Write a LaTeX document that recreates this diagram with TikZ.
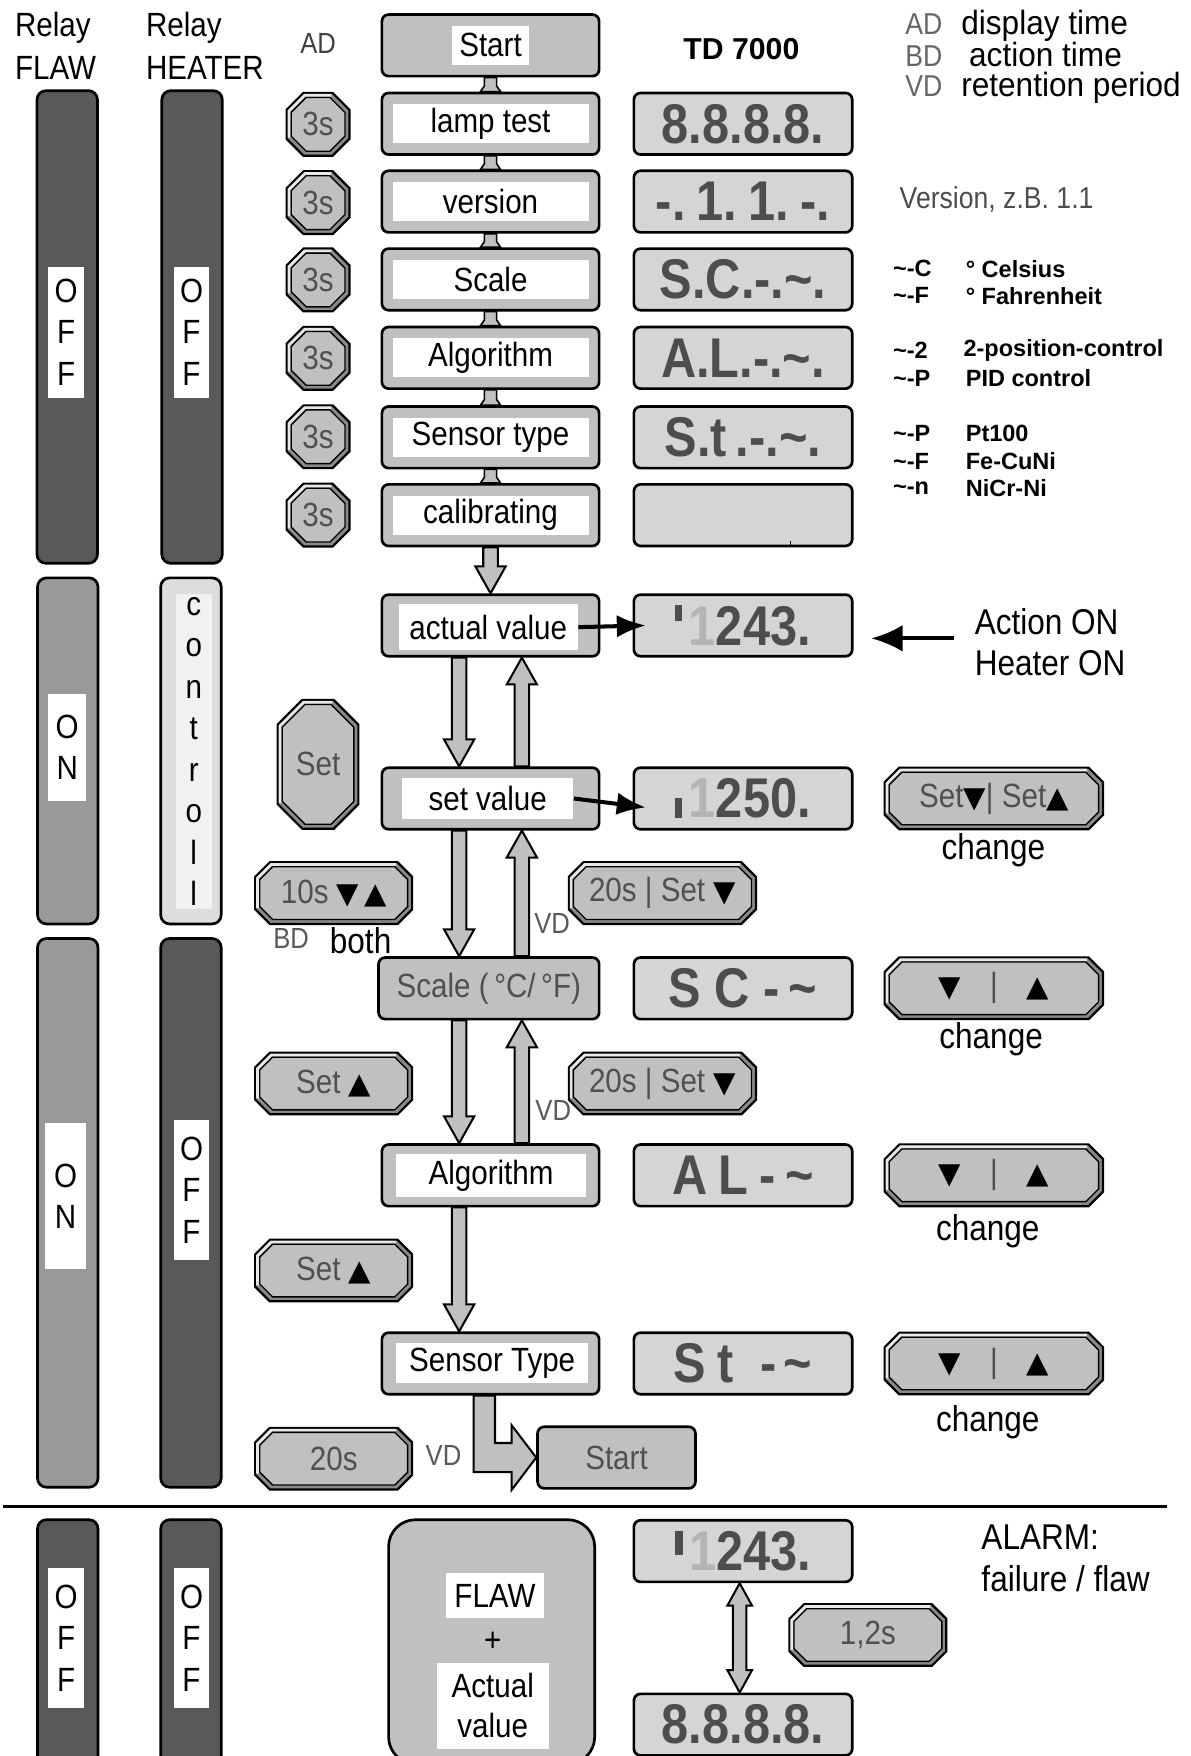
\documentclass[tikz,border=0pt]{standalone}
\usepackage{fontspec}
\setmainfont{Liberation Sans}
\newfontfamily\pix{Liberation Sans}[FakeStretch=0.88]
\newfontfamily\pixw{Liberation Sans}[FakeStretch=0.94]
\newfontfamily\seg{Liberation Sans}[FakeStretch=0.87]
\newfontfamily\tri{DejaVu Sans}
\usetikzlibrary{calc,arrows.meta}
\definecolor{boxgray}{HTML}{C0C0C0}
\definecolor{dispgray}{HTML}{D4D5D7}
\definecolor{bardark}{HTML}{58595B}
\definecolor{barmid}{HTML}{98999B}
\definecolor{barlight}{HTML}{DCDDDF}
\definecolor{btnedge}{HTML}{8A8A8A}
\definecolor{btnlight}{HTML}{E8E8E8}
\definecolor{segc}{HTML}{4D4D4F}
\definecolor{seglt}{HTML}{B4B4B6}
\definecolor{txtgray}{HTML}{505050}
\tikzset{
 proc/.style={draw, line width=1.2pt, fill=boxgray, rounded corners=3pt, minimum width=97pt, minimum height=27.5pt, inner sep=0pt},
 lbl/.style={fill=white, inner sep=0pt, minimum height=17.5pt, font=\pix\fontsize{15}{17}\selectfont},
 wlbl/.style={lbl, minimum width=87.5pt},
 disp/.style={draw, line width=1.2pt, fill=dispgray, rounded corners=3pt, minimum width=97.5pt, minimum height=27.5pt, inner sep=0pt, text=segc, font=\seg\bfseries\fontsize{25}{25}\selectfont},
 bar/.style={draw, line width=1.2pt, rounded corners=4pt, minimum width=27pt, inner sep=0pt},
 barlbl/.style={fill=white, inner sep=0pt, align=center, font=\pix\fontsize{15}{18.5}\selectfont},
 fat/.style={draw=black, line width=0.9pt, fill=boxgray, line join=miter},
 btntext/.style={inner sep=0pt, text=txtgray, font=\pix\fontsize{15}{17}\selectfont},
 plain/.style={inner sep=0pt, anchor=west, font=\pix\fontsize{16}{18}\selectfont},
 ctext/.style={inner sep=0pt, font=\pix\fontsize{16}{18}\selectfont},
 legabbr/.style={inner sep=0pt, anchor=base west, text=black!60, font=\pix\fontsize{13.5}{15}\selectfont},
 legtext/.style={inner sep=0pt, anchor=base west, font=\pixw\fontsize{15}{17}\selectfont},
 smallgray/.style={inner sep=0pt, text=black!65, font=\pix\fontsize{13}{15}\selectfont},
 boldnote/.style={inner sep=0pt, anchor=west, font=\bfseries\fontsize{10.5}{12}\selectfont},
 blackarrow/.style={line width=1.8pt, -{Latex[length=13pt,width=10pt]}},
}
\newcommand\blk[1]{{\color{black}\tri\fontsize{13}{14}\selectfont #1}}
\newcommand\button[7]{%
 \pgfmathsetmacro\ba{#4/2}\pgfmathsetmacro\bb{#5/2}\pgfmathsetmacro\bc{#6}%
 \pgfmathsetmacro\ia{\ba-4}\pgfmathsetmacro\ib{\bb-4}\pgfmathsetmacro\ic{\bc-1.6}%
 \pgfmathsetmacro\ma{\ba-2}\pgfmathsetmacro\mb{\bb-2}\pgfmathsetmacro\mc{\bc-0.8}%
 \filldraw[fill=btnedge, line width=1pt, line join=miter] (#2-\ba+\bc,#3-\bb) -- (#2+\ba-\bc,#3-\bb) -- (#2+\ba,#3-\bb+\bc) -- (#2+\ba,#3+\bb-\bc) -- (#2+\ba-\bc,#3+\bb) -- (#2-\ba+\bc,#3+\bb) -- (#2-\ba,#3+\bb-\bc) -- (#2-\ba,#3-\bb+\bc) -- cycle;
 \draw[btnlight, line width=1.2pt] (#2-\ma,#3+\mb-\mc) -- (#2-\ma,#3-\mb+\mc) -- (#2-\ma+\mc,#3-\mb) -- (#2+\ma-\mc,#3-\mb);
 \filldraw[fill=boxgray, line width=0.6pt, line join=miter] (#2-\ia+\ic,#3-\ib) -- (#2+\ia-\ic,#3-\ib) -- (#2+\ia,#3-\ib+\ic) -- (#2+\ia,#3+\ib-\ic) -- (#2+\ia-\ic,#3+\ib) -- (#2-\ia+\ic,#3+\ib) -- (#2-\ia,#3+\ib-\ic) -- (#2-\ia,#3-\ib+\ic) -- cycle;
 \node[btntext] (#1) at (#2,#3) {#7};}
\newcommand\fatdown[2]{\draw[fat] let \p1=#1, \p2=#2 in (\x1-3.25pt,\y1) -- (\x1-3.25pt,\y2+12pt) -- (\x1-6.75pt,\y2+12pt) -- (\x1,\y2) -- (\x1+6.75pt,\y2+12pt) -- (\x1+3.25pt,\y2+12pt) -- (\x1+3.25pt,\y1) -- cycle;}
\newcommand\fatup[2]{\draw[fat] let \p1=#1, \p2=#2 in (\x1-3.25pt,\y1) -- (\x1-3.25pt,\y2-12pt) -- (\x1-6.75pt,\y2-12pt) -- (\x1,\y2) -- (\x1+6.75pt,\y2-12pt) -- (\x1+3.25pt,\y2-12pt) -- (\x1+3.25pt,\y1) -- cycle;}
\newcommand\smallconn[2]{\draw[fat, line width=0.7pt] let \p1=#1, \p2=#2 in (\x1-2.75pt,\y1) -- (\x1-2.75pt,\y2+2.5pt) -- (\x1-4.5pt,\y2) -- (\x1+4.5pt,\y2) -- (\x1+2.75pt,\y2+2.5pt) -- (\x1+2.75pt,\y1) -- cycle;}
\newcommand\fatboth[2]{\draw[fat] let \p1=#1, \p2=#2 in (\x1,\y1) -- (\x1+5.5pt,\y1-10pt) -- (\x1+3pt,\y1-10pt) -- (\x1+3pt,\y2+10pt) -- (\x1+5.5pt,\y2+10pt) -- (\x1,\y2) -- (\x1-5.5pt,\y2+10pt) -- (\x1-3pt,\y2+10pt) -- (\x1-3pt,\y1-10pt) -- (\x1-5.5pt,\y1-10pt) -- cycle;}
\begin{document}
\begin{tikzpicture}[x=0.5pt,y=-0.5pt]
\useasboundingbox (0,0) rectangle (1063,1568);
% header
\node[plain, font=\pix\fontsize{15}{17}\selectfont] (rf1) at (13,25) {Relay};
\node[plain, font=\pix\fontsize{15}{17}\selectfont] (rf2) at (13,61) {FLAW};
\node[plain, font=\pix\fontsize{15}{17}\selectfont] (rh1) at (130,25) {Relay};
\node[plain, font=\pix\fontsize{15}{17}\selectfont] (rh2) at (130,61) {HEATER};
\node[smallgray, text=black!75] (adh) at (284,39) {AD};
\node[inner sep=0pt, font=\bfseries\fontsize{13.5}{15}\selectfont] (td) at (662,44) {TD 7000};
\node[legabbr] (lad) at (808,31) {AD}; \node[legtext] (ladt) at (858,31) {display time};
\node[legabbr] (lbd) at (808,59) {BD}; \node[legtext] (lbdt) at (865,59) {action time};
\node[legabbr] (lvd) at (808,86) {VD}; \node[legtext] (lvdt) at (858,86) {retention period};
% relay bars
\node[bar, fill=bardark, minimum height=211pt] (r1a) at (60,292) {};
\node[barlbl, minimum width=16pt, minimum height=58.5pt] (r1al) at (59,296.5) {O\\F\\F};
\node[bar, fill=bardark, minimum height=211pt] (r1b) at (171.5,292) {};
\node[barlbl, minimum width=16pt, minimum height=58.5pt] (r1bl) at (171,296.5) {O\\F\\F};
\node[bar, fill=barmid, minimum height=154.5pt] (r2a) at (60.5,670.5) {};
\node[barlbl, minimum width=17pt, minimum height=47.5pt] (r2al) at (60,667.5) {O\\N};
\node[bar, fill=barlight, minimum height=154.5pt] (r2b) at (170.5,670.5) {};
\node[barlbl, minimum width=16pt, minimum height=141pt, fill=white!60!barlight] (r2bl) at (173,671) {c\\o\\n\\t\\r\\o\\l\\l};
\node[bar, fill=barmid, minimum height=245pt] (r3a) at (60.5,1083) {};
\node[barlbl, minimum width=18.5pt, minimum height=65pt] (r3al) at (58.5,1068) {O\\N};
\node[bar, fill=bardark, minimum height=245pt] (r3b) at (170.5,1083) {};
\node[barlbl, minimum width=16pt, minimum height=62.5pt] (r3bl) at (171,1062.5) {O\\F\\F};
\node[bar, fill=bardark, minimum height=113pt] (r4a) at (60.5,1470) {};
\node[barlbl, minimum width=16pt, minimum height=62.5pt] (r4al) at (59,1462.5) {O\\F\\F};
\node[bar, fill=bardark, minimum height=113pt] (r4b) at (170.5,1470) {};
\node[barlbl, minimum width=16pt, minimum height=62.5pt] (r4bl) at (171,1462.5) {O\\F\\F};
% process boxes
\node[proc] (start) at (438,40.5) {};
\node[lbl, minimum width=34pt] (startl) at (start) {Start};
\node[proc] (lamp) at (438,110.5) {}; \node[wlbl] (lampl) at (lamp) {lamp test};
\node[proc] (version) at (438,180) {}; \node[wlbl] (versionl) at (version) {version};
\node[proc] (scale1) at (438,249.5) {}; \node[wlbl] (scale1l) at (scale1) {Scale};
\node[proc] (algo1) at (438,319.5) {}; \node[wlbl] (algo1l) at (algo1) {Algorithm};
\node[proc] (sensor1) at (438,390.5) {}; \node[wlbl] (sensor1l) at (sensor1) {Sensor type};
\node[proc] (calib) at (438,460) {}; \node[wlbl] (calibl) at (calib) {calibrating};
\node[proc] (actual) at (438,558.5) {};
\node[lbl, minimum width=80pt, minimum height=20.5pt] (actuall) at (436,560) {actual value};
\node[proc] (setval) at (438,713) {};
\node[lbl, minimum width=76.5pt, minimum height=18pt] (setvall) at (435.5,713) {set value};
\node[proc, minimum width=98.5pt, text=txtgray, font=\pix\fontsize{15}{17}\selectfont] (scale2) at (436.5,882.5) {Scale (\,°C/\,°F)};
\node[proc] (algo2) at (438,1049.5) {};
\node[lbl, minimum width=84.5pt, minimum height=19.5pt] (algo2l) at (438.5,1049.5) {Algorithm};
\node[proc] (sensor2) at (438,1217.5) {};
\node[lbl, minimum width=85.5pt, minimum height=18pt] (sensor2l) at (439.5,1217) {Sensor Type};
\node[proc, minimum width=70.5pt, text=txtgray, font=\pix\fontsize{15}{17}\selectfont] (start2) at (550.5,1301.5) {Start};
% displays
\node[disp] (d1) at (663.5,110.5) {8.8.8.8.};
\node[disp] (d2) at (663.5,180) {-.\hspace{5pt}1.\hspace{5pt}1.\hspace{5pt}-.};
\node[disp] (d3) at (663.5,249.5) {S.C.-.\textasciitilde.};
\node[disp] (d4) at (663.5,319.5) {A.L.-.\textasciitilde.};
\node[disp] (d5) at (663.5,390.5) {S.t\hspace{4pt}.-.\textasciitilde.};
\node[disp] (d6) at (663.5,460) {};
\node[disp] (d7) at (663.5,558.5) {\rule[11pt]{3pt}{7pt}\hspace{3pt}\textcolor{seglt}{1}243.\hspace{8pt}};
\node[disp] (d8) at (663.5,713) {\rule[0pt]{3pt}{9pt}\hspace{3pt}\textcolor{seglt}{1}250.\hspace{8pt}};
\node[disp] (d9) at (663.5,882.5) {S\hspace{6pt}C\hspace{6pt}-\hspace{4pt}\textasciitilde};
\node[disp] (d10) at (663.5,1049.5) {A\hspace{5pt}L\hspace{5pt}-\hspace{4pt}\textasciitilde};
\node[disp] (d11) at (663.5,1217.5) {S\hspace{5pt}t\hspace{12pt}-\hspace{3pt}\textasciitilde};
\node[disp] (d12) at (663.5,1385) {\rule[7pt]{3.5pt}{11pt}\hspace{3pt}\textcolor{seglt}{1}243.\hspace{8pt}};
\node[disp] (d13) at (663.5,1540) {8.8.8.8.};
\draw[line width=0.5pt] ($(d6.south)+(42,0)$) -- ++(0,-6);
% buttons
\button{t1}{284}{111}{56}{56}{15}{3s}
\button{t2}{284}{181}{56}{56}{15}{3s}
\button{t3}{284}{250}{56}{56}{15}{3s}
\button{t4}{284}{320}{56}{56}{15}{3s}
\button{t5}{284}{390}{56}{56}{15}{3s}
\button{t6}{284}{460}{56}{56}{15}{3s}
\button{setb}{284}{682.5}{72}{115}{22}{Set}
\button{b10s}{298}{797.5}{140}{55}{13}{10s \blk{▼\,▲}}
\button{b20a}{591.5}{797.5}{167}{55}{13}{20s | Set \blk{▼}}
\button{bseta}{298}{967.5}{140}{55}{13}{Set \blk{▲}}
\button{b20b}{591.5}{967.5}{167}{55}{13}{20s | Set \blk{▼}}
\button{bsetb}{298}{1134.5}{140}{55}{13}{Set \blk{▲}}
\button{b20c}{298}{1302.5}{140}{55}{13}{20s}
\button{chg1}{887.5}{713}{195}{55}{13}{Set\blk{▼}| Set\blk{▲}}
\button{chg2}{887.5}{882.5}{195}{55}{13}{\blk{▼}\hspace{13pt}|\hspace{13pt}\blk{▲}}
\button{chg3}{887.5}{1049.5}{195}{55}{13}{\blk{▼}\hspace{13pt}|\hspace{13pt}\blk{▲}}
\button{chg4}{887.5}{1217.5}{195}{55}{13}{\blk{▼}\hspace{13pt}|\hspace{13pt}\blk{▲}}
\button{b12}{775}{1460}{140}{55}{13}{1,2s}
% small labels
\node[smallgray] (bd) at (260,838) {BD};
\node[ctext] (both) at (322,840) {both};
\node[smallgray] (vd1) at (493,825) {VD};
\node[smallgray] (vd2) at (494,992) {VD};
\node[smallgray] (vd3) at (396,1300) {VD};
\node[ctext] (ch1) at (887,759) {change};
\node[ctext] (ch2) at (885,928) {change};
\node[ctext] (ch3) at (882,1099) {change};
\node[ctext] (ch4) at (882,1270) {change};
% notes
\node[plain, text=black!70, font=\pix\fontsize{13.5}{15}\selectfont] (ver) at (803,178) {Version, z.B. 1.1};
\node[boldnote] (n1a) at (797,240) {\textasciitilde-C}; \node[boldnote] (n1b) at (862,240) {° Celsius};
\node[boldnote] (n2a) at (797,264) {\textasciitilde-F}; \node[boldnote] (n2b) at (862,264) {° Fahrenheit};
\node[boldnote] (n3a) at (797,313) {\textasciitilde-2}; \node[boldnote] (n3b) at (860,313) {2-position-control};
\node[boldnote] (n4a) at (797,338) {\textasciitilde-P}; \node[boldnote] (n4b) at (862,338) {PID control};
\node[boldnote] (n5a) at (797,387) {\textasciitilde-P}; \node[boldnote] (n5b) at (862,387) {Pt100};
\node[boldnote] (n6a) at (797,412) {\textasciitilde-F}; \node[boldnote] (n6b) at (862,412) {Fe-CuNi};
\node[boldnote] (n7a) at (797,436) {\textasciitilde-n}; \node[boldnote] (n7b) at (862,436) {NiCr-Ni};
\node[plain] (act1) at (870,555) {Action ON};
\node[plain] (act2) at (870,592) {Heater ON};
\coordinate (actA) at (852,570); \coordinate (actB) at (778,570);
\draw[line width=1.8pt, -{Latex[length=14pt,width=12pt]}] (actA) -- (actB);
% connectors
\smallconn{(start.south)}{(lamp.north)}
\smallconn{(lamp.south)}{(version.north)}
\smallconn{(version.south)}{(scale1.north)}
\smallconn{(scale1.south)}{(algo1.north)}
\smallconn{(algo1.south)}{(sensor1.north)}
\smallconn{(sensor1.south)}{(calib.north)}
\fatdown{(calib.south)}{(actual.north)}
\fatdown{($(actual.south)+(-28,0)$)}{($(setval.north)+(-28,0)$)}
\fatup{($(setval.north)+(28,0)$)}{($(actual.south)+(28,0)$)}
\fatdown{($(setval.south)+(-28,0)$)}{($(scale2.north)+(-26.5,0)$)}
\fatup{($(scale2.north)+(29.5,0)$)}{($(setval.south)+(28,0)$)}
\fatdown{($(scale2.south)+(-26.5,0)$)}{($(algo2.north)+(-28,0)$)}
\fatup{($(algo2.north)+(28,0)$)}{($(scale2.south)+(29.5,0)$)}
\fatdown{($(algo2.south)+(-28,0)$)}{($(sensor2.north)+(-28,0)$)}
\draw[blackarrow] (actuall.east) -- ($(d7.west)+(12,0)$);
\draw[blackarrow] (setvall.east) -- ($(d8.west)+(12,8)$);
\draw[fat] let \p1=($(sensor2.south)+(-15,0)$), \p2=(start2.west) in
  (\x1,\y1) -- (\x1,\y2-6.5pt) -- (\x2-11pt,\y2-6.5pt) -- (\x2-11pt,\y2-14.5pt) -- (\x2,\y2) -- (\x2-11pt,\y2+14.5pt) -- (\x2-11pt,\y2+6.5pt) -- (\x1+9.5pt,\y2+6.5pt) -- (\x1+9.5pt,\y1) -- cycle;
% separator
\coordinate (sepL) at (3,1345); \coordinate (sepR) at (1042,1345);
\draw[line width=1.2pt] (sepL) -- (sepR);
% alarm section
\node[draw, line width=1.2pt, fill=boxgray, rounded corners=12pt, minimum width=92pt, minimum height=109pt, inner sep=0pt] (flaw) at (439,1466) {};
\node[lbl, minimum width=44pt, minimum height=20pt] (flawl) at (442,1425) {FLAW};
\node[inner sep=0pt, font=\pix\fontsize{15}{17}\selectfont] (plus) at (440,1466) {+};
\node[lbl, minimum width=50pt, minimum height=38.5pt, align=center, font=\pix\fontsize{15}{18}\selectfont] (actl2) at (440,1523) {Actual\\value};
\fatboth{($(d12.south)+(-3,0)$)}{($(d13.north)+(-3,0)$)}
\node[plain] (al1) at (876,1373) {ALARM:};
\node[plain] (al2) at (876,1410) {failure / flaw};
\end{tikzpicture}
\end{document}
